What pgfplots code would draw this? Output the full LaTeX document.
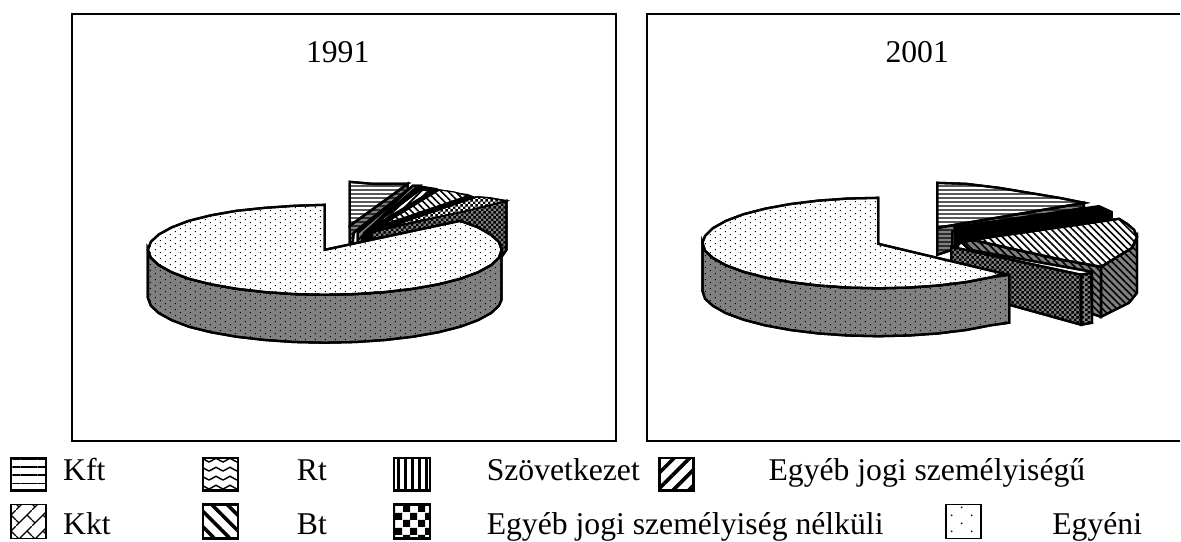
\documentclass[border=0pt]{standalone}
\usepackage{pgfplots}
\pgfplotsset{compat=1.18}
\usepackage{fontspec}
\setmainfont{Liberation Serif}
\usetikzlibrary{patterns,patterns.meta}
\pgfdeclarepatternformonly{chkS}{\pgfqpoint{0pt}{0pt}}{\pgfqpoint{5.4pt}{5.4pt}}{\pgfqpoint{5.4pt}{5.4pt}}{
 \pgfpathrectangle{\pgfqpoint{0pt}{0pt}}{\pgfqpoint{2.7pt}{2.7pt}}
 \pgfpathrectangle{\pgfqpoint{2.7pt}{2.7pt}}{\pgfqpoint{2.7pt}{2.7pt}}\pgfusepath{fill}}
\pgfdeclarepatternformonly{chkL}{\pgfqpoint{0pt}{0pt}}{\pgfqpoint{14.4pt}{14.4pt}}{\pgfqpoint{14.4pt}{14.4pt}}{
 \pgfpathrectangle{\pgfqpoint{0pt}{0pt}}{\pgfqpoint{7.2pt}{7.2pt}}
 \pgfpathrectangle{\pgfqpoint{7.2pt}{7.2pt}}{\pgfqpoint{7.2pt}{7.2pt}}\pgfusepath{fill}}
\pgfdeclarepatternformonly{waveL}{\pgfqpoint{0pt}{0pt}}{\pgfqpoint{14pt}{8.5pt}}{\pgfqpoint{14pt}{8.5pt}}{
 \pgfsetlinewidth{1.5pt}
 \pgfpathmoveto{\pgfqpoint{0pt}{2pt}}\pgfpathlineto{\pgfqpoint{7pt}{6pt}}\pgfpathlineto{\pgfqpoint{14pt}{2pt}}\pgfusepath{stroke}}
\pgfdeclarepatternformonly{brickL}{\pgfqpoint{0pt}{0pt}}{\pgfqpoint{16pt}{16pt}}{\pgfqpoint{16pt}{16pt}}{
 \pgfsetlinewidth{1.1pt}
 \pgfpathmoveto{\pgfqpoint{0pt}{0pt}}\pgfpathlineto{\pgfqpoint{16pt}{16pt}}
 \pgfpathmoveto{\pgfqpoint{11pt}{11pt}}\pgfpathlineto{\pgfqpoint{16pt}{6pt}}
 \pgfpathmoveto{\pgfqpoint{0pt}{6pt}}\pgfpathlineto{\pgfqpoint{3pt}{3pt}}\pgfusepath{stroke}}
\pgfdeclarepatternformonly{dotS}{\pgfqpoint{0pt}{0pt}}{\pgfqpoint{10pt}{6pt}}{\pgfqpoint{10pt}{6pt}}{
 \pgfpathrectangle{\pgfqpoint{1pt}{1pt}}{\pgfqpoint{1pt}{1pt}}
 \pgfpathrectangle{\pgfqpoint{6pt}{4pt}}{\pgfqpoint{1pt}{1pt}}\pgfusepath{fill}}
\pgfdeclarepatternformonly{dotL}{\pgfqpoint{0pt}{0pt}}{\pgfqpoint{20pt}{16pt}}{\pgfqpoint{20pt}{16pt}}{
 \pgfpathrectangle{\pgfqpoint{2pt}{2pt}}{\pgfqpoint{1.5pt}{1.5pt}}
 \pgfpathrectangle{\pgfqpoint{12pt}{10pt}}{\pgfqpoint{1.5pt}{1.5pt}}\pgfusepath{fill}}
\tikzset{
 pK/.style={pattern={Lines[angle=0,distance=4pt,line width=1.1pt]}},
 pHatch/.style={pattern={Lines[angle=-45,distance=5pt,line width=1.6pt]}},
 pNE/.style={pattern={Lines[angle=45,distance=5pt,line width=1.9pt]}},
 pChk/.style={pattern=chkS},
 pDot/.style={pattern=dotS},
}
\pgfplotsset{
 face/.style 2 args={draw=black,line width=2.3pt,line join=miter,fill=#1,postaction={#2}},
 sw/.style={draw=black,line width=2.2pt,fill=white,postaction={#1}},
}
\begin{document}
\begin{tikzpicture}
\begin{axis}[scale only axis,width=1181pt,height=542pt,xmin=0,xmax=1181,ymin=0,ymax=542,y dir=reverse,hide axis,clip=false]
\addplot[draw=none] coordinates {(0,0)(1181,542)};
% frames
\addplot[draw=black,line width=2pt] coordinates {(72,14)(617,14)(617,441)(72,441)} -- cycle;
\addplot[draw=black,line width=2pt] coordinates {(1181,14)(648,14)(648,441)(1181,441)};
% ---------- 1991
% Kft
\addplot[face={gray}{pK}] coordinates {(350,226)(408,184)(408,190)(354,233)(353,243)(350,243)} -- cycle;
\addplot[face={white}{pK}] coordinates {(350,182)(373,184)(408,184)(350,226)} -- cycle;
% Rt, Szovetkezet
\addplot[face={gray}{pNE}] coordinates {(358,233)(413,186)(420,186)(363,236)(362,243)(358,243)} -- cycle;
\addplot[draw=black,line width=1.7pt,fill=black] coordinates {(364,233)(418,186)(437,189)(440,191)(372,235)(370,243)(364,243)} -- cycle;
\addplot[draw=black,line width=1pt,fill=white,postaction={pNE}] coordinates {(371,228)(421,190)(432,191)} -- cycle;
% hatch
\addplot[draw=black,line width=1.7pt,fill=black] coordinates {(378,228)(440,191)(468,195)(476,198)(374,238)} -- cycle;
\addplot[draw=black,line width=1pt,fill=white,postaction={pHatch}] coordinates {(383,225)(440,190)(454,192)(468,196)} -- cycle;
% checker
\addplot[face={gray}{pChk}] coordinates {(507,201)(507,250)(502,257)(460,222)(372,240)(372,232)} -- cycle;
\addplot[draw=black,line width=1.4pt,fill=white,postaction={pChk}] coordinates {(387,228)(477,197)(490,198)(507,201)(463,212)} -- cycle;
% Egyeni
\addplot[face={gray}{pDot}] coordinates {(148,250)(151,258)(159,265.4)(172,272.5)(189,279)(211,284.5)(236.5,289)(265,292.3)(294,294.3)(325,295)(356,294.3)(385.5,292.3)(413.5,289)(439,284.5)(460.6,279)(478.3,272.5)(491.3,265.4)(499.3,258)(502,252)(502,300)(499.3,306)(491.3,313.4)(478.3,320.5)(460.6,327)(439,332.5)(413.5,337)(385.5,340.3)(356,342.3)(325,343)(294,342.3)(265,340.3)(236.5,337)(211,332.5)(189,327)(172,320.5)(159,313.4)(151,306)(148,298)} -- cycle;
\addplot[face={white}{pDot}] coordinates {(325,250)(325,205)(294,206)(265,208)(236.5,211)(211,215.5)(189,221)(172,227.5)(159,234.6)(151,242)(148,250)(151,258)(159,265.4)(172,272.5)(189,279)(211,284.5)(236.5,289)(265,292.3)(294,294.3)(325,295)(356,294.3)(385.5,292.3)(413.5,289)(439,284.5)(460.6,279)(478.3,272.5)(491.3,265.4)(499.3,258)(502,250)(499.3,242)(491.3,235)(478.3,227.5)(460.6,221)} -- cycle;
% ---------- 2001
% Kft
\addplot[face={gray}{pK}] coordinates {(938,228)(1085,203)(1085,208)(953,232)(953,250)(938,255)} -- cycle;
\addplot[face={white}{pK}] coordinates {(938,183)(967,184)(1000,188)(1030,193)(1060,198)(1085,203)(938,228)} -- cycle;
% Rt / Szovetkezet
\addplot[draw=black,line width=1.7pt,fill=black] coordinates {(955,227)(1100,206)(1113,212)(1113,218)(960,244)(958,250)(955,250)} -- cycle;
% hatch
\addplot[face={gray}{pHatch}] coordinates {(1138,237)(1138,293)(1130,303)(1102,317)(1102,267)(1133,248)} -- cycle;
\addplot[face={gray}{pHatch}] coordinates {(963,243)(973,240)(1013,249)(1063,260)(1102,267)(1102,317)(1093,314)(1093,272)(1010,257)(970,250)} -- cycle;
\addplot[face={white}{pHatch}] coordinates {(973,240)(1120,219)(1128,224)(1135,230)(1138,237)(1133,248)(1102,267)(1063,260)(1013,249)} -- cycle;
% checker
\addplot[face={gray}{pChk}] coordinates {(952,247)(1082,275)(1082,325)(1010,305)(952,290)} -- cycle;
\addplot[face={gray}{pChk}] coordinates {(1082,275)(1092,273)(1093,323)(1082,325)} -- cycle;
% Egyeni
\addplot[face={gray}{pDot}] coordinates {(703,243)(705.7,251)(713.6,258.2)(726.6,265.5)(744.2,272)(765.9,277.7)(791,282.3)(818.8,285.7)(848.4,287.8)(879,288.5)(909.6,287.8)(939.2,285.7)(967,282.3)(992,277.5)(1010,275)(1010,323)(992,325.5)(967,330.3)(939.2,333.7)(909.6,335.8)(879,336.5)(848.4,335.8)(818.8,333.7)(791,330.3)(765.9,325.7)(744.2,320)(726.6,313.5)(713.6,306.2)(705.7,299)(703,291)} -- cycle;
\addplot[face={white}{pDot}] coordinates {(879,244)(879,198)(848.4,198.7)(818.8,200.8)(791,204.2)(765.9,208.8)(744.2,214.4)(726.6,221)(713.6,228.3)(705.7,236)(703,243)(705.7,251)(713.6,258.2)(726.6,265.5)(744.2,272)(765.9,277.7)(791,282.3)(818.8,285.7)(848.4,287.8)(879,288.5)(909.6,287.8)(939.2,285.7)(967,282.3)(992,277.5)(1005,274)} -- cycle;
% ---------- legend swatches
\addplot[sw={pattern={Lines[angle=0,distance=8.3pt,line width=1.8pt]}}] coordinates {(11,458)(46,458)(46,491)(11,491)} -- cycle;
\addplot[sw={pattern=waveL}] coordinates {(203,458)(238,458)(238,491)(203,491)} -- cycle;
\addplot[sw={pattern={Lines[angle=90,distance=7pt,line width=2.6pt]}}] coordinates {(394,458)(430,458)(430,491)(394,491)} -- cycle;
\addplot[sw={pattern={Lines[angle=45,distance=11pt,line width=3.6pt]}}] coordinates {(660,458)(694,458)(694,491)(660,491)} -- cycle;
\addplot[sw={pattern=brickL},line width=1.6pt] coordinates {(11,505)(46,505)(46,539)(11,539)} -- cycle;
\addplot[sw={pattern={Lines[angle=-45,distance=11pt,line width=3.6pt]}}] coordinates {(203,505)(238,505)(238,539)(203,539)} -- cycle;
\addplot[sw={pattern=chkL}] coordinates {(394,505)(430,505)(430,539)(394,539)} -- cycle;
\addplot[sw={pattern=dotL},line width=1.6pt] coordinates {(947,505)(982,505)(982,539)(947,539)} -- cycle;
% ---------- text
\def\fs{\fontsize{31.7}{36}\selectfont}
\node[anchor=base,font=\fs] at (axis cs:338,63) {1991};
\node[anchor=base,font=\fs] at (axis cs:918,63) {2001};
\node[anchor=base west,inner sep=0pt,font=\fs] at (axis cs:63,481) {Kft};
\node[anchor=base west,inner sep=0pt,font=\fs] at (axis cs:297,481) {Rt};
\node[anchor=base west,inner sep=0pt,font=\fs] at (axis cs:487,481) {Szövetkezet};
\node[anchor=base west,inner sep=0pt,font=\fs] at (axis cs:769,481) {Egyéb jogi személyiségű};
\node[anchor=base west,inner sep=0pt,font=\fs] at (axis cs:63,535) {Kkt};
\node[anchor=base west,inner sep=0pt,font=\fs] at (axis cs:297,535) {Bt};
\node[anchor=base west,inner sep=0pt,font=\fs] at (axis cs:487,535) {Egyéb jogi személyiség nélküli};
\node[anchor=base west,inner sep=0pt,font=\fs] at (axis cs:1053,535) {Egyéni};
\end{axis}
\end{tikzpicture}
\end{document}
